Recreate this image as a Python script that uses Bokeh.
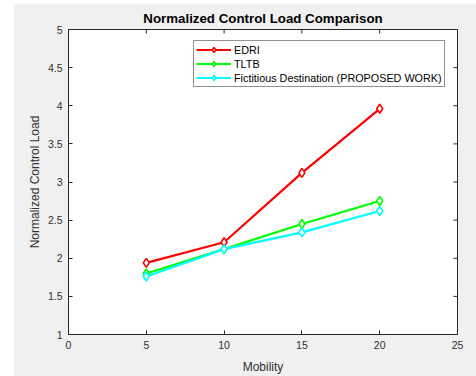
from bokeh.plotting import figure
from bokeh.models import FixedTicker, Legend, LegendItem, Range1d
from bokeh.embed import file_html
from bokeh.resources import INLINE

mobility = [5, 10, 15, 20]
edri = [1.94, 2.21, 3.12, 3.96]
tltb = [1.80, 2.12, 2.45, 2.75]
fictitious = [1.76, 2.12, 2.34, 2.62]

series_names = ["EDRI", "TLTB", "Fictitious Destination (PROPOSED WORK)"]
series_colors = ["#ff0000", "#00ff00", "#00ffff"]

x_ticks = [0, 5, 10, 15, 20, 25]
y_ticks = [1, 1.5, 2, 2.5, 3, 3.5, 4, 4.5, 5]
y_tick_labels = ["1", "1.5", "2", "2.5", "3", "3.5", "4", "4.5", "5"]

FONT = "Liberation Sans"
BG = "#f0f0f0"
TXT = "#303030"
AX = "#262626"

X0, X1, Y0, Y1 = 0, 25, 1, 5
FRAME_W, FRAME_H = 389, 305
TICK = 4

p = figure(width=463, height=373, output_backend="svg", toolbar_location=None,
           x_range=Range1d(X0, X1), y_range=Range1d(Y0, Y1),
           min_border_left=55, min_border_right=19, min_border_top=26, min_border_bottom=42,
           background_fill_color="white", border_fill_color=BG,
           outline_line_color=AX, outline_line_width=1)
p.margin = (3, 0, 0, 13)

p.title.text = "Normalized Control Load Comparison"
p.title.align = "center"
p.title.text_font = FONT
p.title.text_font_size = "13.3px"
p.title.text_font_style = "bold"
p.title.text_color = "#000000"
p.title.offset = 0
p.title.standoff = 8

p.xgrid.visible = False
p.ygrid.visible = False

for ax in p.xaxis + p.yaxis:
    ax.major_tick_in = TICK
    ax.major_tick_out = 0
    ax.minor_tick_line_color = None
    ax.axis_line_color = AX
    ax.major_tick_line_color = AX
    ax.major_label_text_font = FONT
    ax.major_label_text_font_size = "10.5px"
    ax.major_label_text_color = TXT
    ax.axis_label_text_font = FONT
    ax.axis_label_text_font_size = "12px"
    ax.axis_label_text_font_style = "normal"
    ax.axis_label_text_color = TXT

p.xaxis.ticker = FixedTicker(ticks=x_ticks)
p.yaxis.ticker = FixedTicker(ticks=y_ticks)
p.yaxis.major_label_overrides = {t: l for t, l in zip(y_ticks, y_tick_labels)}
p.xaxis.axis_label = "Mobility"
p.yaxis.axis_label = "Normalized Control Load"
p.xaxis.major_label_standoff = 6
p.yaxis.major_label_standoff = 6
p.xaxis.axis_label_standoff = 8
p.yaxis.axis_label_standoff = 3

# inward tick marks on the top and right edges of the box (MATLAB style)
dy = TICK * (Y1 - Y0) / FRAME_H
dx = TICK * (X1 - X0) / FRAME_W
p.segment(x0=x_ticks, y0=[Y1] * len(x_ticks), x1=x_ticks, y1=[Y1 - dy] * len(x_ticks),
          line_color=AX, line_width=1)
p.segment(x0=[X1] * len(y_ticks), y0=y_ticks, x1=[X1 - dx] * len(y_ticks), y1=y_ticks,
          line_color=AX, line_width=1)

items = []
for name, ys, col in zip(series_names, [edri, tltb, fictitious], series_colors):
    l = p.line(mobility, ys, line_color=col, line_width=2.2)
    s = p.scatter(mobility, ys, marker="diamond", size=9, line_color=col,
                  line_width=1.6, fill_color="white")
    items.append(LegendItem(label=name, renderers=[l, s]))

legend = Legend(items=items, location=(125, 247), orientation="vertical",
                label_text_font=FONT, label_text_font_size="10.8px", label_text_color="#000000",
                glyph_width=35, glyph_height=13, label_height=13, label_standoff=3,
                spacing=1, padding=2, margin=0,
                border_line_color=AX, border_line_width=1,
                background_fill_color="white", background_fill_alpha=1.0)
p.add_layout(legend, "center")

open("out.html", "w").write(file_html(p, INLINE))
